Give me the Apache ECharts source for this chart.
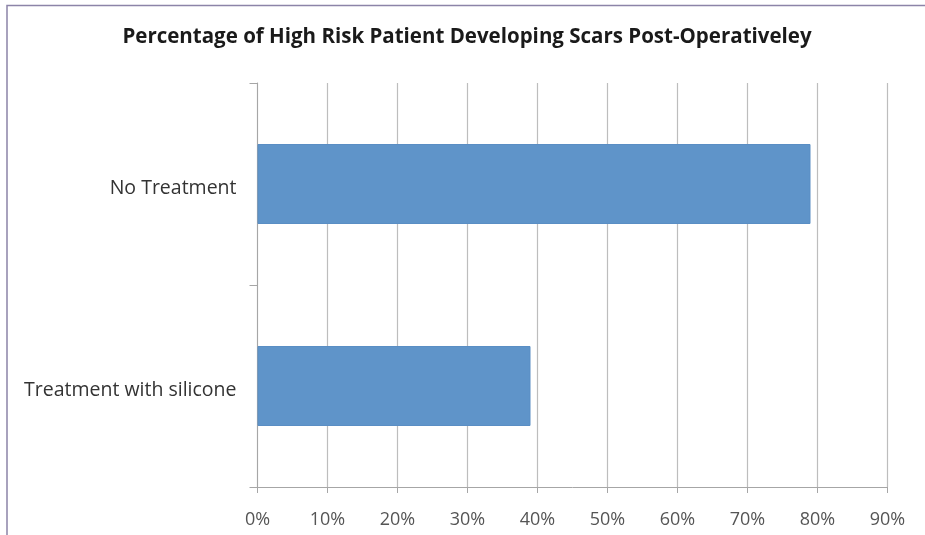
<!DOCTYPE html>
<html>
<head>
<meta charset="utf-8">
<script src="https://cdn.jsdelivr.net/npm/echarts@6/dist/echarts.min.js"></script>
<style>
  html, body { margin: 0; padding: 0; background: #fff; }
  #chart { width: 925px; height: 535px; }
</style>
</head>
<body>
<div id="chart"></div>
<script>
const titleText = 'Percentage of High Risk Patient Developing Scars Post-Operativeley';
const categories = ['No Treatment', 'Treatment with silicone'];
const percentValues = [79, 39];
const xMin = 0;
const xMax = 90;
const xStep = 10;

const chart = echarts.init(document.getElementById('chart'));

const option = {
  backgroundColor: '#ffffff',
  animation: false,
  title: {
    text: titleText,
    left: 462,
    textAlign: 'center',
    top: 22,
    textStyle: {
      fontFamily: 'Open Sans',
      fontWeight: 'bold',
      fontSize: 20.5,
      color: '#1a1a1a',
    },
  },
  graphic: [
    {
      type: 'polyline',
      shape: { points: [[7, 535], [7, 5.5], [925, 5.5]] },
      style: { stroke: '#8c84a8', lineWidth: 1.5, fill: null },
      silent: true,
    },
  ],
  grid: {
    left: 257.5,
    right: 37.5,
    top: 83,
    bottom: 48,
  },
  xAxis: {
    type: 'value',
    min: xMin,
    max: xMax,
    interval: xStep,
    axisLine: { show: true, lineStyle: { color: '#a6a6a6', width: 1 } },
    axisTick: { show: true, length: 6, lineStyle: { color: '#a6a6a6' } },
    axisLabel: {
      formatter: '{value}%',
      color: '#555555',
      fontFamily: 'Open Sans',
      fontSize: 18,
      margin: 24,
    },
    splitLine: { show: true, lineStyle: { color: '#bdbdbd', width: 1.2 } },
  },
  yAxis: {
    type: 'category',
    data: categories,
    inverse: true,
    axisLine: { show: true, lineStyle: { color: '#a6a6a6', width: 1 } },
    axisTick: { show: true, length: 8, lineStyle: { color: '#a6a6a6' } },
    axisLabel: {
      color: '#333333',
      fontFamily: 'Open Sans',
      fontSize: 19.5,
      margin: 21,
      formatter: '{a|{value}}',
      rich: {
        a: {
          color: '#333333',
          fontFamily: 'Open Sans',
          fontSize: 19.5,
          padding: [8, 0, 0, 0],
        },
      },
    },
    splitLine: { show: false },
  },
  series: [
    {
      type: 'bar',
      data: percentValues,
      barWidth: 80,
      itemStyle: {
        color: '#5f94c9',
        borderColor: '#5a8ec4',
        borderWidth: 1,
      },
    },
  ],
};

chart.setOption(option);
</script>
</body>
</html>
